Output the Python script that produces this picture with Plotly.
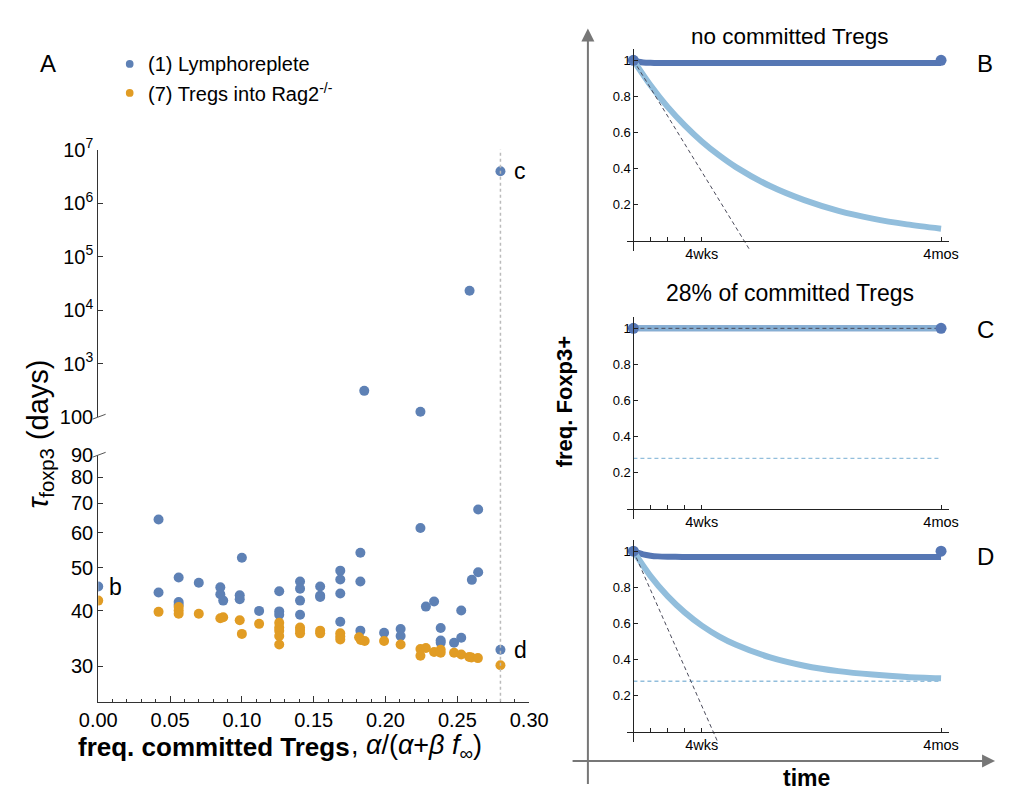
import numpy as np
import plotly.graph_objects as go

W, H = 1016, 799
FONT = "Liberation Sans, Arial, Helvetica, sans-serif"


def fx(p):
    return p / W


def fy(p):
    return 1 - p / H


# ---- Panel A: relaxation time of Foxp3 expression vs committed fraction ----
lympho_x = [0.0, 0.042, 0.042, 0.056, 0.056, 0.056, 0.070, 0.085, 0.085, 0.087,
            0.0985, 0.0985, 0.100, 0.112, 0.126, 0.126, 0.126,
            0.1405, 0.1405, 0.1405, 0.1405, 0.1545, 0.1545, 0.1545,
            0.1685, 0.1685, 0.1685, 0.1685, 0.1825, 0.1825, 0.1825, 0.1852,
            0.199, 0.2105, 0.2105, 0.2243, 0.2243, 0.2281, 0.2338,
            0.2384, 0.2384, 0.2384, 0.2477, 0.2527, 0.2527, 0.2585, 0.2601,
            0.2645, 0.2645, 0.280, 0.280]
lympho_tau = [45.4, 64.3, 44.0, 47.6, 41.9, 41.3, 46.3, 45.2, 43.6, 42.2,
              43.4, 42.5, 52.7, 40.0, 44.3, 39.9, 39.2,
              46.6, 44.9, 42.2, 39.2, 45.4, 43.3, 43.0,
              49.3, 47.1, 43.8, 37.8, 54.1, 46.6, 36.1, 308.0,
              35.7, 36.4, 35.1, 61.5, 125.0, 40.9, 42.0,
              36.6, 34.3, 33.9, 33.9, 40.1, 34.8, 22970.0, 47.0,
              67.7, 48.9, 32.7, 3.94e6]

rag_x = [0.0, 0.042, 0.056, 0.056, 0.056, 0.070, 0.085, 0.087, 0.0985, 0.100,
         0.112, 0.126, 0.126, 0.126, 0.126, 0.126, 0.1405, 0.1405, 0.1405,
         0.1545, 0.1545, 0.1685, 0.1685, 0.1685, 0.1816, 0.1828, 0.1855,
         0.199, 0.2105, 0.2243, 0.2243, 0.2281, 0.2338, 0.2384, 0.2384,
         0.2477, 0.2527, 0.2583, 0.2598, 0.2643, 0.280]
rag_tau = [42.2, 39.8, 40.8, 40.1, 39.4, 39.4, 38.5, 38.7, 38.1, 35.5,
           37.4, 37.6, 36.7, 36.1, 35.1, 33.6, 36.7, 36.2, 35.6,
           36.1, 35.6, 35.6, 35.0, 34.5, 34.9, 34.4, 34.2,
           34.2, 33.6, 32.8, 31.7, 33.0, 32.3, 32.7, 32.2,
           32.2, 31.9, 31.5, 31.4, 31.3, 30.15]

series_names = ["(1) Lymphoreplete", "(7) Tregs into Rag2<sup>-/-</sup>"]
BLUE = "#5E81B5"
ORANGE = "#E19C24"

# point labels (b: no committed Tregs, c/d: 28% committed)
label_b = (0.0, 45.4)
label_c = (0.280, 3.94e6)
label_d = (0.280, 32.7)
committed_frac = 0.28
BREAK_AT = 95.0

# ---- Panels B-D: model trajectories of freq. Foxp3+ over time (days) ----
t_light = [0, 7, 14, 21, 28, 35, 42, 56, 70, 84, 98, 112, 126]
B_light = [1.0, 0.862, 0.742, 0.640, 0.551, 0.475, 0.409, 0.304, 0.226, 0.167, 0.124, 0.092, 0.068]
C_light = [1.0] * len(t_light)
D_light = [1.0, 0.862, 0.751, 0.661, 0.588, 0.529, 0.482, 0.412, 0.366, 0.336, 0.317, 0.304, 0.296]

t_dark = [0, 2, 4, 7, 10, 14, 20, 40, 126]
B_dark = [1.0, 0.992, 0.988, 0.986, 0.985, 0.985, 0.985, 0.985, 0.985]
C_dark = [1.0] * len(t_dark)
D_dark = [1.0, 0.99, 0.982, 0.975, 0.971, 0.969, 0.968, 0.968, 0.968]

obs_t = [0, 126]
obs_B = [1.0, 1.0]
obs_C = [1.0, 1.0]
obs_D = [1.0, 1.0]

tau_B, tau_C, tau_D = label_b[1], label_c[1], label_d[1]

DARK = "#5677B4"
LIGHT = "#92BEDC"

fig = go.Figure()

# scatter: lower part of the broken axis and upper (very long times) part
for xs, ys, col in [(lympho_x, lympho_tau, BLUE), (rag_x, rag_tau, ORANGE)]:
    xs = np.array(xs)
    ys = np.array(ys)
    lo = ys < BREAK_AT
    fig.add_trace(go.Scatter(x=xs[lo], y=ys[lo], mode="markers", xaxis="x", yaxis="y",
                             marker=dict(color=col, size=10), showlegend=False, cliponaxis=True))
    if (~lo).any():
        fig.add_trace(go.Scatter(x=xs[~lo], y=ys[~lo], mode="markers", xaxis="x", yaxis="y2",
                                 marker=dict(color=col, size=10), showlegend=False, cliponaxis=True))

panels = [
    ("x2", "y3", B_light, B_dark, obs_B, tau_B, False),
    ("x3", "y4", C_light, C_dark, obs_C, tau_C, True),
    ("x4", "y5", D_light, D_dark, obs_D, tau_D, True),
]
for xa, ya, light, dark, obs, tau, show_plateau in panels:
    if show_plateau:
        fig.add_trace(go.Scatter(x=[t_light[0], t_light[-1]], y=[committed_frac] * 2,
                                 mode="lines", xaxis=xa, yaxis=ya, showlegend=False,
                                 line=dict(color=LIGHT, width=1.3, dash="4px,3px")))
    fig.add_trace(go.Scatter(x=t_dark, y=dark, mode="lines", xaxis=xa, yaxis=ya,
                             showlegend=False, line=dict(color=DARK, width=6, shape="spline", smoothing=0.6)))
    fig.add_trace(go.Scatter(x=t_light, y=light, mode="lines", xaxis=xa, yaxis=ya,
                             showlegend=False, opacity=0.8 if tau > 1e5 else 1,
                             line=dict(color=LIGHT, width=6, shape="spline", smoothing=0.8)))
    t_end = min(tau * 1.05, t_light[-1])
    fig.add_trace(go.Scatter(x=[0, t_end], y=[1.0, 1.0 - t_end / tau], mode="lines",
                             xaxis=xa, yaxis=ya, showlegend=False,
                             line=dict(color="#4a4a5a", width=1, dash="4px,3px")))
    fig.add_trace(go.Scatter(x=obs_t, y=obs, mode="markers", xaxis=xa, yaxis=ya,
                             showlegend=False, cliponaxis=False,
                             marker=dict(color=DARK, size=11)))

axis_font = dict(family=FONT, size=20, color="black")
small_font = dict(family=FONT, size=13, color="black")

layout = dict(
    width=W, height=H, margin=dict(l=0, r=0, t=0, b=0),
    paper_bgcolor="white", plot_bgcolor="white", showlegend=False,
    font=dict(family=FONT, color="black"),
    xaxis=dict(domain=[fx(82.3), fx(530)], range=[0, 0.30], anchor="y",
               tickvals=[0, 0.05, 0.10, 0.15, 0.20, 0.25, 0.30],
               ticktext=["0.00", "0.05", "0.10", "0.15", "0.20", "0.25", "0.30"],
               ticks="inside", ticklen=6, tickcolor="#333", showline=True, linecolor="#333",
               linewidth=1, showgrid=False, zeroline=False, tickfont=axis_font,
               minor=dict(dtick=0.01, tick0=0, ticks="inside", ticklen=3, tickcolor="#333")),
    yaxis=dict(domain=[fy(710), fy(455)], type="log", range=[np.log10(24.95), np.log10(90)],
               anchor="x", tickvals=[30, 40, 50, 60, 70, 80, 90],
               ticktext=["30", "40", "50", "60", "70", "80", "90"],
               ticks="inside", ticklen=5, tickcolor="#333", showline=True, linecolor="#333",
               showgrid=False, zeroline=False, tickfont=axis_font),
    yaxis2=dict(domain=[fy(416), fy(140)], type="log", range=[2, 7], anchor="x",
                tickvals=[1e2, 1e3, 1e4, 1e5, 1e6, 1e7],
                ticktext=["100", "10<sup>3</sup>", "10<sup>4</sup>", "10<sup>5</sup>",
                          "10<sup>6</sup>", "10<sup>7</sup>"],
                ticks="inside", ticklen=5, tickcolor="#333", showline=True, linecolor="#333",
                showgrid=False, zeroline=False, tickfont=axis_font),
)

right_x_dom = [fx(631.7), fx(966)]
right_x_rng = [-2.6, 129.2]
right_y_rng = [-0.055, 1.06]
right_panels = [("xaxis2", "yaxis3", 234.3, 244.6, 36.6),
                ("xaxis3", "yaxis4", 511.0, 521.3, 313.3),
                ("xaxis4", "yaxis5", 741.0, 751.3, 543.3)]
for xk, yk, zero_px, bot_px, top_px in right_panels:
    layout[xk] = dict(domain=right_x_dom, range=right_x_rng, anchor="free", position=fy(zero_px),
                      tickvals=[0, 7, 14, 21, 28, 126],
                      ticktext=["", "", "", "", "4wks", "4mos"],
                      ticks="inside", ticklen=4, tickcolor="#222", showline=True,
                      linecolor="#222", showgrid=False, zeroline=False,
                      tickfont=dict(family=FONT, size=14.5, color="black"))
    layout[yk] = dict(domain=[fy(bot_px), fy(top_px)], range=right_y_rng, anchor="free",
                      position=fx(638.3), tickvals=[0.2, 0.4, 0.6, 0.8, 1.0],
                      ticktext=["0.2", "0.4", "0.6", "0.8", "1"],
                      ticks="inside", ticklen=4, tickcolor="#222", showline=True,
                      linecolor="#222", showgrid=False, zeroline=False, tickfont=small_font)

fig.update_layout(**layout)

ann = []
# panel letter and legend
ann.append(dict(x=fx(30), y=fy(51), xref="paper", yref="paper", text="A", showarrow=False,
                font=dict(family=FONT, size=24), xanchor="center", yanchor="middle"))
shapes = []
for i, (name, col) in enumerate(zip(series_names, [BLUE, ORANGE])):
    cy = 51.5 + 30 * i
    shapes.append(dict(type="circle", xref="paper", yref="paper",
                       x0=fx(111), x1=fx(119), y0=fy(cy + 4), y1=fy(cy - 4),
                       fillcolor=col, line=dict(width=0)))
    ann.append(dict(x=fx(132), y=fy(cy), xref="paper", yref="paper", text=name,
                    showarrow=False, xanchor="left", yanchor="middle",
                    font=dict(family=FONT, size=20)))

# point labels
ann.append(dict(x=label_b[0], y=np.log10(label_b[1]), xref="x", yref="y", text="b",
                showarrow=False, xanchor="left", yanchor="middle", xshift=9,
                font=dict(family=FONT, size=23)))
ann.append(dict(x=label_c[0], y=np.log10(label_c[1]), xref="x", yref="y2", text="c",
                showarrow=False, xanchor="left", yanchor="middle", xshift=12,
                font=dict(family=FONT, size=23)))
ann.append(dict(x=label_d[0], y=np.log10(label_d[1]), xref="x", yref="y", text="d",
                showarrow=False, xanchor="left", yanchor="middle", xshift=12,
                font=dict(family=FONT, size=23)))

# axis titles of panel A
ann.append(dict(x=fx(346), y=fy(757), xref="paper", yref="paper", showarrow=False,
                text="<b>freq. committed Tregs</b>",
                font=dict(family=FONT, size=26), xanchor="right", yanchor="middle"))
ann.append(dict(x=fx(343), y=fy(757), xref="paper", yref="paper", showarrow=False,
                text=", <i>α</i>/(<i>α</i>+<i>β</i> <i>f</i><sub>∞</sub>)",
                font=dict(family=FONT, size=27), xanchor="left", yanchor="middle"))
ann.append(dict(x=fx(22), y=fy(434), xref="paper", yref="paper", showarrow=False,
                text="<i>τ</i><sub>foxp3</sub> (days)", textangle=-90,
                font=dict(family=FONT, size=29), xanchor="center", yanchor="middle"))

# right-hand panel titles and letters
for txt, y, sz in [("no committed Tregs", 23, 22.5), ("28% of committed Tregs", 288, 23)]:
    ann.append(dict(x=fx(801), y=fy(y), xref="paper", yref="paper", text=txt, showarrow=False,
                    font=dict(family=FONT, size=sz), xanchor="center", yanchor="middle"))
for txt, y in [("B", 51), ("C", 326), ("D", 560)]:
    ann.append(dict(x=fx(1004), y=fy(y), xref="paper", yref="paper", text=txt, showarrow=False,
                    font=dict(family=FONT, size=24), xanchor="center", yanchor="middle"))
ann.append(dict(x=fx(567), y=fy(400), xref="paper", yref="paper", text="<b>freq. Foxp3+</b>",
                showarrow=False, textangle=-90, font=dict(family=FONT, size=22),
                xanchor="center", yanchor="middle"))
ann.append(dict(x=fx(818), y=fy(789), xref="paper", yref="paper", text="<b>time</b>",
                showarrow=False, font=dict(family=FONT, size=23), xanchor="center", yanchor="middle"))

# big outer arrows (freq. Foxp3+ up, time right)
ann.append(dict(x=fx(591), y=fy(15), xref="paper", yref="paper", text="", showarrow=True,
                ax=0, ay=757, arrowhead=2, arrowsize=1.3, arrowwidth=2, arrowcolor="#777777"))
ann.append(dict(x=fx(1014), y=fy(771), xref="paper", yref="paper", text="", showarrow=True,
                ax=-424, ay=0, arrowhead=2, arrowsize=1.3, arrowwidth=2, arrowcolor="#777777"))

# vertical reference line at the committed fraction
shapes.append(dict(type="line", xref="x", yref="paper", x0=committed_frac, x1=committed_frac,
                   y0=fy(710), y1=fy(140), line=dict(color="#BBBBBB", width=1.5, dash="dot"),
                   layer="above"))
# axis break marks
for yb in [415.7, 455.0]:
    shapes.append(dict(type="line", xref="paper", yref="paper", x0=fx(76.5), x1=fx(90),
                       y0=fy(yb + 2.5), y1=fy(yb - 2.5), line=dict(color="#555555", width=1)))

fig.update_layout(annotations=ann, shapes=shapes)
fig.write_html("out.html")
